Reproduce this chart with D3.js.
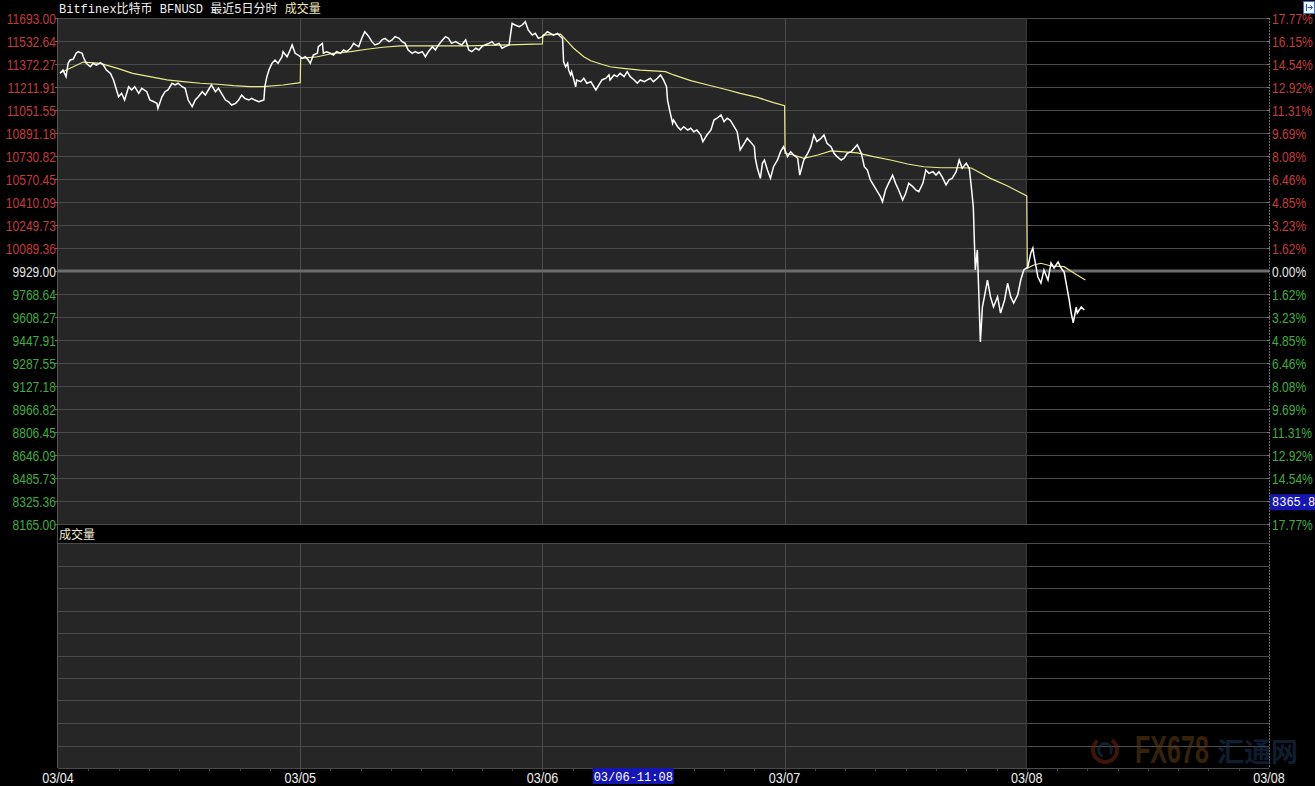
<!DOCTYPE html>
<html>
<head>
<meta charset="utf-8">
<script src="https://cdn.jsdelivr.net/npm/d3@7/dist/d3.min.js"></script>
<style>
  html, body { margin: 0; padding: 0; background: #000; overflow: hidden; }
  svg { display: block; }
</style>
</head>
<body>
<div id="chart"></div>
<script>
// chart texts
const titleMain = 'Bitfinex比特币 BFNUSD 最近5日分时';
const titleVolume = '成交量';
const basePrice = 9929.00;
const cursorLabel = '03/06-11:08';
const cursorHour = 48 + 11 + 8 / 60;
const lastPrice = 8365.81;

// axis labels
const leftTicks = [11693.00, 11532.64, 11372.27, 11211.91, 11051.55, 10891.18, 10730.82, 10570.45,
  10410.09, 10249.73, 10089.36, 9929.00, 9768.64, 9608.27, 9447.91, 9287.55, 9127.18, 8966.82,
  8806.45, 8646.09, 8485.73, 8325.36, 8165.00];
const rightTicks = ['17.77%', '16.15%', '14.54%', '12.92%', '11.31%', '9.69%', '8.08%', '6.46%',
  '4.85%', '3.23%', '1.62%', '0.00%', '1.62%', '3.23%', '4.85%', '6.46%', '8.08%', '9.69%',
  '11.31%', '12.92%', '14.54%', '16.15%', '17.77%'];
const dayLabels = ['03/04', '03/05', '03/06', '03/07', '03/08', '03/08'];
const dayHours = [0, 24, 48, 72, 96, 120];
const volumeGrid = [0, 1, 2, 3, 4, 5, 6, 7, 8, 9, 10];

// [hours since 03/04 00:00, price]
const priceSeries = [
  [0.2, 11307], [0.5, 11330], [0.8, 11284], [1.0, 11377], [1.2, 11400], [1.5, 11405], [1.8, 11447], [2.0, 11458],
  [2.4, 11447], [2.5, 11423], [2.8, 11377], [3.2, 11353], [3.5, 11377], [3.8, 11365], [4.2, 11381], [4.5, 11365],
  [4.8, 11330], [5.2, 11307], [5.5, 11261], [5.8, 11191], [6.0, 11144], [6.3, 11168], [6.6, 11121], [7.0, 11214],
  [7.3, 11191], [7.6, 11214], [8.0, 11168], [8.3, 11203], [8.8, 11179], [9.1, 11121], [9.5, 11109], [9.8, 11098],
  [9.9, 11063], [10.3, 11144], [10.6, 11179], [10.9, 11191], [11.3, 11238], [11.6, 11226], [11.9, 11238], [12.3, 11214],
  [12.6, 11203], [12.9, 11121], [13.3, 11075], [13.6, 11121], [13.9, 11144], [14.3, 11179], [14.6, 11156], [14.9, 11191],
  [15.2, 11226], [15.6, 11179], [15.9, 11203], [16.2, 11168], [16.6, 11121], [16.9, 11109], [17.2, 11086], [17.6, 11098],
  [17.9, 11121], [18.2, 11156], [18.5, 11133], [18.9, 11121], [19.2, 11133], [19.5, 11121], [19.9, 11109], [20.4, 11121],
  [20.5, 11214], [20.7, 11284], [20.9, 11330], [21.2, 11377], [21.5, 11400], [21.8, 11377], [22.2, 11423], [22.3, 11458],
  [22.7, 11423], [23.0, 11470], [23.2, 11505], [23.5, 11447], [23.8, 11435], [24.2, 11412], [24.5, 11423], [24.8, 11400],
  [25.0, 11377], [25.3, 11435], [25.7, 11447], [25.8, 11493], [26.2, 11516], [26.3, 11447], [26.6, 11458], [27.0, 11447],
  [27.3, 11435], [27.6, 11458], [28.0, 11447], [28.3, 11470], [28.6, 11458], [29.0, 11482], [29.3, 11516], [29.5, 11505],
  [29.8, 11493], [30.1, 11551], [30.4, 11597], [30.8, 11563], [31.1, 11528], [31.4, 11505], [31.8, 11516], [32.1, 11540],
  [32.4, 11551], [32.8, 11528], [33.1, 11540], [33.4, 11563], [33.8, 11551], [34.1, 11528], [34.4, 11516], [34.7, 11470],
  [35.1, 11447], [35.4, 11458], [35.7, 11447], [36.1, 11458], [36.4, 11423], [36.7, 11458], [37.1, 11493], [37.4, 11470],
  [37.7, 11505], [38.1, 11540], [38.4, 11563], [38.7, 11551], [39.0, 11516], [39.4, 11528], [39.7, 11516], [40.0, 11505],
  [40.4, 11540], [40.7, 11470], [41.0, 11458], [41.4, 11482], [41.7, 11470], [42.0, 11493], [42.3, 11505], [42.7, 11516],
  [43.0, 11528], [43.3, 11505], [43.7, 11516], [44.0, 11482], [44.3, 11493], [44.7, 11505], [45.0, 11656], [45.3, 11644],
  [45.7, 11632], [46.0, 11644], [46.3, 11667], [46.6, 11609], [47.0, 11574], [47.3, 11586], [47.6, 11551], [48.0, 11563],
  [48.5, 11597], [48.8, 11586], [49.1, 11574], [49.5, 11586], [49.8, 11563], [50.0, 11551], [50.1, 11388], [50.3, 11353],
  [50.5, 11377], [50.6, 11330], [50.8, 11296], [50.9, 11319], [51.3, 11214], [51.4, 11261], [51.8, 11249], [52.1, 11273],
  [52.4, 11238], [52.8, 11249], [53.3, 11191], [53.6, 11226], [53.9, 11261], [54.3, 11273], [54.6, 11296], [54.7, 11261],
  [55.1, 11296], [55.4, 11284], [55.7, 11307], [56.1, 11284], [56.4, 11319], [56.7, 11284], [57.1, 11261], [57.4, 11238],
  [57.7, 11261], [58.1, 11249], [58.4, 11261], [58.7, 11273], [59.0, 11249], [59.4, 11273], [59.7, 11296], [60.0, 11261],
  [60.3, 11214], [60.4, 11121], [60.6, 11052], [60.9, 10959], [61.0, 10982], [61.4, 10935], [61.7, 10912], [62.0, 10935],
  [62.4, 10912], [62.7, 10924], [63.0, 10900], [63.3, 10912], [63.7, 10877], [63.9, 10831], [64.3, 10877], [64.7, 10912],
  [65.0, 10982], [65.3, 10994], [65.7, 11017], [66.0, 10970], [66.3, 10994], [66.6, 10982], [67.0, 10935], [67.3, 10900],
  [67.6, 10773], [68.0, 10819], [68.3, 10854], [68.6, 10831], [69.0, 10796], [69.1, 10715], [69.3, 10645], [69.6, 10575],
  [69.8, 10680], [70.0, 10703], [70.3, 10633], [70.6, 10575], [70.9, 10656], [71.3, 10703], [71.6, 10761], [71.9, 10796],
  [72.3, 10726], [72.6, 10761], [72.9, 10738], [73.3, 10715], [73.5, 10598], [73.9, 10703], [74.3, 10750], [74.6, 10796],
  [74.9, 10877], [75.2, 10831], [75.6, 10854], [75.9, 10877], [76.2, 10819], [76.6, 10796], [76.9, 10750], [77.2, 10726],
  [77.6, 10703], [77.9, 10715], [78.2, 10750], [78.6, 10761], [78.9, 10785], [79.2, 10808], [79.6, 10750], [79.9, 10656],
  [80.2, 10633], [80.5, 10564], [80.9, 10517], [81.2, 10482], [81.5, 10447], [81.7, 10412], [82.0, 10494], [82.3, 10540],
  [82.7, 10598], [83.0, 10540], [83.3, 10494], [83.7, 10424], [84.0, 10471], [84.3, 10540], [84.7, 10517], [85.0, 10494],
  [85.3, 10482], [85.7, 10540], [86.0, 10633], [86.3, 10610], [86.7, 10621], [87.0, 10598], [87.3, 10621], [87.6, 10587],
  [88.0, 10529], [88.3, 10564], [88.6, 10575], [89.0, 10621], [89.3, 10703], [89.6, 10645], [90.0, 10680], [90.3, 10645],
  [90.5, 10517], [90.7, 10375], [90.8, 10145], [90.9, 9936], [91.1, 10076], [91.2, 9866], [91.4, 9434], [91.6, 9678],
  [91.8, 9750], [92.1, 9866], [92.4, 9750], [92.7, 9678], [93.1, 9750], [93.4, 9636], [93.8, 9727], [94.1, 9845],
  [94.4, 9750], [94.7, 9706], [95.1, 9762], [95.4, 9866], [95.7, 9936], [96.1, 9957], [96.4, 10055], [96.6, 10089],
  [96.7, 10041], [97.1, 9887], [97.4, 9845], [97.7, 9936], [98.1, 9866], [98.4, 9985], [98.7, 9950], [99.1, 9992],
  [99.4, 9950], [99.7, 9922], [99.9, 9845], [100.2, 9727], [100.4, 9636], [100.6, 9567], [100.9, 9678], [101.0, 9636],
  [101.4, 9678], [101.7, 9657]
];

// daily average price line [hours, price]
const avgSeries = [
  [0.2, 11310], [2.5, 11386], [4.2, 11377], [5.9, 11342], [7.4, 11307], [9.1, 11284], [10.8, 11261], [12.4, 11249],
  [14.1, 11238], [15.8, 11231], [17.4, 11221], [19.0, 11214], [20.3, 11214], [22.3, 11226], [24.0, 11242], [24.05, 11412],
  [25.7, 11423], [27.3, 11447], [29.0, 11458], [30.6, 11475], [32.2, 11489], [33.9, 11498], [37.2, 11498], [40.6, 11498],
  [44.6, 11505], [48.0, 11512], [48.05, 11574], [49.8, 11580], [50.5, 11528], [51.1, 11482], [52.1, 11423], [52.8, 11395],
  [53.8, 11372], [54.7, 11353], [56.0, 11342], [57.7, 11330], [59.4, 11323], [60.2, 11319], [61.0, 11296], [62.7, 11256],
  [64.4, 11226], [66.0, 11198], [67.6, 11168], [69.3, 11140], [70.9, 11103], [72.0, 11082], [72.05, 10750], [72.9, 10738],
  [73.9, 10715], [75.3, 10738], [76.6, 10766], [77.6, 10761], [79.2, 10752], [80.8, 10726], [82.5, 10703], [84.2, 10675],
  [85.8, 10656], [87.5, 10649], [89.2, 10649], [90.5, 10647], [92.4, 10575], [94.1, 10522], [96.0, 10452], [96.05, 9948],
  [96.7, 9971], [97.4, 9983], [98.4, 9964], [99.7, 9959], [100.7, 9913], [101.8, 9866]
];

const W = 1315, H = 786;
const plotLeft = 58, plotRight = 1269;
const mainTop = 18, mainBottom = 524;
const volTop = 543, volBottom = 768;
const RED = '#c23c3c', GREEN = '#3fae3f', WHITE = '#e6e6e6';
const GRID = '#4a4a4a';
const crisp = v => Math.round(v) + 0.5;

const x = d3.scaleLinear().domain([0, 120]).range([plotLeft, plotRight]);
const y = d3.scaleLinear().domain([8165, 11693]).range([mainBottom, mainTop]);
const yVol = d3.scaleLinear().domain([0, 10]).range([volBottom, volTop]);

const svg = d3.select('#chart').append('svg')
  .attr('width', W)
  .attr('height', H)
  .style('font-family', '"Liberation Sans", Arial, sans-serif');

svg.append('rect').attr('width', W).attr('height', H).attr('fill', '#000');

// <editor-fold desc="Panels">
[[mainTop, mainBottom], [volTop, volBottom]].forEach(([t, b]) => {
  svg.append('rect')
    .attr('x', x(0))
    .attr('y', t)
    .attr('width', x(96) - x(0))
    .attr('height', b - t)
    .attr('fill', '#262626');
});
// </editor-fold>

// <editor-fold desc="Grid">
const grid = svg.append('g').attr('class', 'grid');
grid.selectAll('line.h')
  .data(leftTicks.filter(d => d !== basePrice))
  .join('line')
  .attr('class', 'h')
  .attr('x1', plotLeft).attr('x2', plotRight)
  .attr('y1', d => crisp(y(d))).attr('y2', d => crisp(y(d)))
  .attr('stroke', GRID);

grid.selectAll('line.v')
  .data(volumeGrid)
  .join('line')
  .attr('class', 'v')
  .attr('x1', plotLeft).attr('x2', plotRight)
  .attr('y1', d => crisp(yVol(d))).attr('y2', d => crisp(yVol(d)))
  .attr('stroke', GRID);

[[mainTop, mainBottom], [volTop, volBottom]].forEach(([t, b]) => {
  grid.selectAll(null)
    .data(dayHours.slice(1, 4))
    .join('line')
    .attr('x1', d => crisp(x(d))).attr('x2', d => crisp(x(d)))
    .attr('y1', t).attr('y2', b)
    .attr('stroke', GRID);
  grid.append('line')
    .attr('x1', crisp(x(96)) - 1).attr('x2', crisp(x(96)) - 1)
    .attr('y1', t).attr('y2', b)
    .attr('stroke', '#3a3a3a');
});

// base price line
grid.append('line')
  .attr('x1', plotLeft).attr('x2', plotRight)
  .attr('y1', y(basePrice)).attr('y2', y(basePrice))
  .attr('stroke', '#6c6c6c')
  .attr('stroke-width', 3);

// axis borders
grid.append('line')
  .attr('x1', crisp(x(0)) - 1).attr('x2', crisp(x(0)) - 1)
  .attr('y1', mainTop).attr('y2', volBottom)
  .attr('stroke', '#555');
grid.append('line')
  .attr('x1', crisp(x(120))).attr('x2', crisp(x(120)))
  .attr('y1', mainTop).attr('y2', volBottom)
  .attr('stroke', '#666')
  .attr('stroke-dasharray', '2 1');
// </editor-fold>

// <editor-fold desc="Price axes">
const leftAxis = svg.append('g').attr('class', 'axis-left');
leftAxis.selectAll('line')
  .data(leftTicks)
  .join('line')
  .attr('x1', plotLeft - 3).attr('x2', plotLeft)
  .attr('y1', d => crisp(y(d))).attr('y2', d => crisp(y(d)))
  .attr('stroke', '#666');
leftAxis.selectAll('text')
  .data(leftTicks)
  .join('text')
  .attr('transform', d => `translate(${plotLeft - 2}, ${y(d) + 1}) scale(0.86, 1)`)
  .attr('text-anchor', 'end')
  .attr('dy', '0.36em')
  .attr('font-size', 14)
  .attr('fill', d => d > basePrice ? RED : d < basePrice ? GREEN : WHITE)
  .text(d => d.toFixed(2));

// the last-price tag covers the percent label in its row
const py = y(lastPrice);
const rightRows = rightTicks
  .map((label, i) => ({label, value: leftTicks[i]}))
  .filter(d => Math.abs(y(d.value) - (py + 7)) > 8);

const rightAxis = svg.append('g').attr('class', 'axis-right');
rightAxis.selectAll('line')
  .data(leftTicks)
  .join('line')
  .attr('x1', plotRight - 2).attr('x2', plotRight + 1)
  .attr('y1', d => crisp(y(d))).attr('y2', d => crisp(y(d)))
  .attr('stroke', '#777');
rightAxis.selectAll('text')
  .data(rightRows)
  .join('text')
  .attr('transform', d => `translate(${plotRight + 3}, ${y(d.value) + 1}) scale(0.86, 1)`)
  .attr('dy', '0.36em')
  .attr('font-size', 14)
  .attr('fill', d => d.value > basePrice ? RED : d.value < basePrice ? GREEN : WHITE)
  .text(d => d.label);
// </editor-fold>

// <editor-fold desc="Lines">
const line = d3.line().x(d => x(d[0])).y(d => y(d[1]));
svg.append('path')
  .datum(avgSeries)
  .attr('d', line)
  .attr('fill', 'none')
  .attr('stroke', '#ecea8a')
  .attr('stroke-width', 1.2);
svg.append('path')
  .datum(priceSeries)
  .attr('d', line)
  .attr('fill', 'none')
  .attr('stroke', '#ffffff')
  .attr('stroke-width', 1.5)
  .attr('stroke-linejoin', 'miter');
// </editor-fold>

// <editor-fold desc="Titles">
const monoFont = '"Liberation Mono", "DejaVu Sans Mono", "Noto Sans CJK SC", monospace';
const title = svg.append('text')
  .attr('x', plotLeft + 1)
  .attr('y', 13)
  .attr('font-family', monoFont)
  .attr('font-size', 12);
title.append('tspan').attr('fill', '#f2f2f2').text(titleMain + ' ');
title.append('tspan').attr('fill', '#f0e8b4').text(titleVolume);

svg.append('text')
  .attr('x', plotLeft + 1)
  .attr('y', volTop - 4)
  .attr('font-family', monoFont)
  .attr('font-size', 12)
  .attr('fill', '#f0ecd0')
  .text(titleVolume);

// small button top right
const btn = svg.append('g').attr('transform', 'translate(1303.5, 1.5)');
btn.append('rect').attr('width', 11).attr('height', 12).attr('fill', '#eef3fb').attr('stroke', '#3b6fc9');
btn.append('path').attr('d', 'M3,2.5V9.5M4,6H9M7,4L9,6L7,8').attr('fill', 'none').attr('stroke', '#2a58b8');
// </editor-fold>

// <editor-fold desc="Time axis">
const timeAxis = svg.append('g').attr('class', 'axis-time');
timeAxis.selectAll('line')
  .data(d3.range(3, 120, 3))
  .join('line')
  .attr('x1', d => crisp(x(d))).attr('x2', d => crisp(x(d)))
  .attr('y1', volBottom + 1).attr('y2', volBottom + 3)
  .attr('stroke', '#444');
timeAxis.selectAll('text')
  .data(dayLabels)
  .join('text')
  .attr('transform', (d, i) => `translate(${x(dayHours[i])}, ${H - 3}) scale(0.9, 1)`)
  .attr('text-anchor', 'middle')
  .attr('font-size', 14)
  .attr('fill', '#f0f0f0')
  .text(d => d);

// cursor time label
const cx = x(cursorHour);
timeAxis.append('rect')
  .attr('x', cx - 62).attr('y', volBottom)
  .attr('width', 81).attr('height', 16)
  .attr('fill', '#1616b4');
timeAxis.append('text')
  .attr('x', cx - 21.5).attr('y', volBottom + 13)
  .attr('text-anchor', 'middle')
  .attr('font-family', monoFont)
  .attr('font-size', 12)
  .attr('fill', '#fff')
  .text(cursorLabel);

// cursor price label
svg.append('rect')
  .attr('x', plotRight + 1).attr('y', py - 1)
  .attr('width', W - plotRight).attr('height', 16)
  .attr('fill', '#1616b4');
svg.append('text')
  .attr('x', plotRight + 3).attr('y', py + 11)
  .attr('font-family', monoFont)
  .attr('font-size', 12)
  .attr('fill', '#fff')
  .text(lastPrice.toFixed(2));
// </editor-fold>

// <editor-fold desc="Watermark">
const mark = svg.append('g').attr('transform', 'translate(1105, 750)').attr('opacity', 0.5);
mark.append('path')
  .attr('d', d3.arc()({innerRadius: 10, outerRadius: 14, startAngle: 0.6, endAngle: 5.6}))
  .attr('fill', '#7a2a14');
mark.append('path')
  .attr('d', d3.arc()({innerRadius: 5, outerRadius: 8, startAngle: 3.5, endAngle: 8.5}))
  .attr('fill', '#1e3c5a');
mark.append('text')
  .attr('transform', 'translate(30, 13) scale(0.66, 1)')
  .attr('font-size', 38)
  .attr('font-weight', 'bold')
  .attr('fill', '#6a4412')
  .text('FX678');
mark.append('text')
  .attr('x', 112).attr('y', 12)
  .attr('font-family', '"Noto Sans CJK SC", sans-serif')
  .attr('font-size', 27)
  .attr('font-weight', 'bold')
  .attr('fill', '#1c3a5e')
  .text('汇通网');
// </editor-fold>
</script>
</body>
</html>
